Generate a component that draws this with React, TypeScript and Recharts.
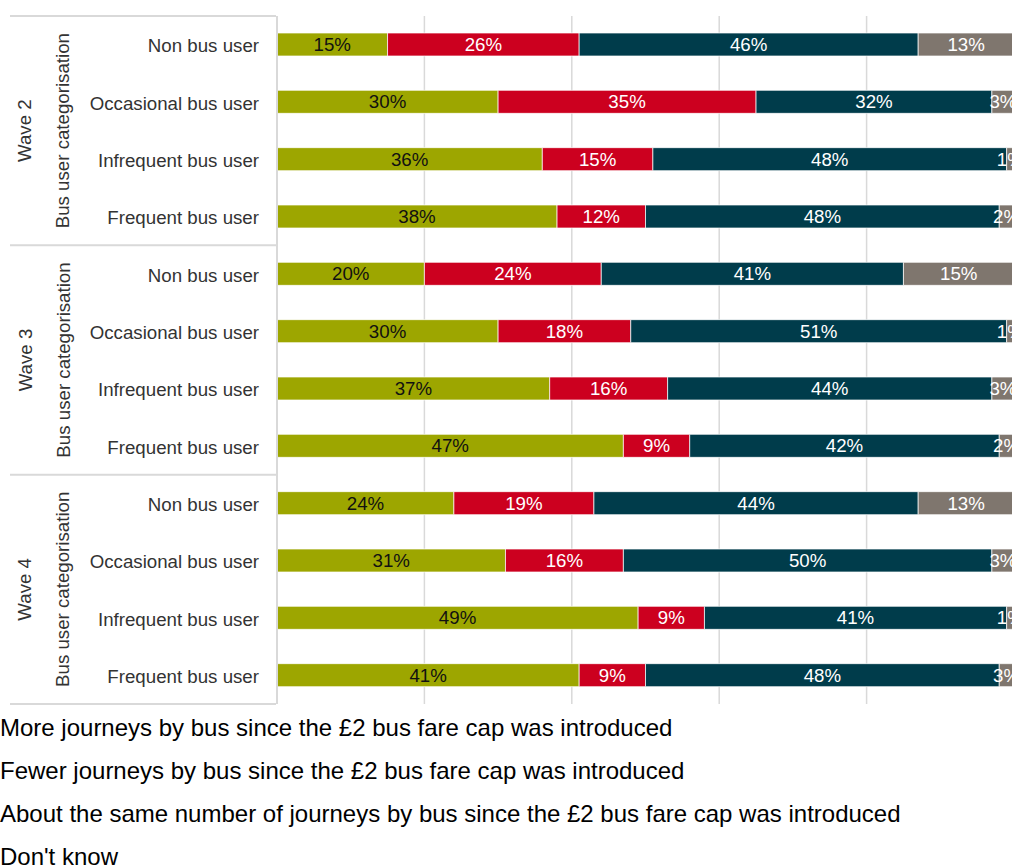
import { BarChart, Bar, XAxis, YAxis, CartesianGrid, Legend, LabelList } from 'recharts'

const waves = ['Wave 2', 'Wave 3', 'Wave 4']
const userTypes = ['Non bus user', 'Occasional bus user', 'Infrequent bus user', 'Frequent bus user']
const groupTitle = 'Bus user categorisation'

// one value per row, top to bottom (wave 2 .. wave 4)
const more = [15, 30, 36, 38, 20, 30, 37, 47, 24, 31, 49, 41]
const fewer = [26, 35, 15, 12, 24, 18, 16, 9, 19, 16, 9, 9]
const same = [46, 32, 48, 48, 41, 51, 44, 42, 44, 50, 41, 48]
const dontKnow = [13, 3, 1, 2, 15, 1, 3, 2, 13, 3, 1, 3]

const xTicks = [0, 20, 40, 60, 80, 100]

const SERIES = [
    { key: 'more', name: 'More journeys by bus since the £2 bus fare cap was introduced', color: '#9da600', text: '#111111' },
    { key: 'fewer', name: 'Fewer journeys by bus since the £2 bus fare cap was introduced', color: '#cc001f', text: '#ffffff' },
    { key: 'same', name: 'About the same number of journeys by bus since the £2 bus fare cap was introduced', color: '#003c4b', text: '#ffffff' },
    { key: 'dontKnow', name: "Don't know", color: '#7f766e', text: '#ffffff' },
]

const FONT = '"Liberation Sans", Arial, sans-serif'
const TOP = 16
const PLOT_H = 688
const AXIS_W = 277

const rows = waves.flatMap((w, wi) =>
    userTypes.map((u, ui) => {
        const i = wi * userTypes.length + ui
        return { id: `${w}-${u}`, wave: w, label: u, more: more[i], fewer: fewer[i], same: same[i], dontKnow: dontKnow[i] }
    })
)

const band = PLOT_H / rows.length
const lineColor = '#d9d9d9'

function RowTick(props: any) {
    const { y, index } = props
    const row = rows[index]
    if (!row) return null
    const pos = index % userTypes.length
    const groupMid = y + band / 2
    return (
        <g>
            <text x={259} y={y + 1} textAnchor="end" dominantBaseline="central" fill="#333" fontSize={18.7} fontFamily={FONT}>
                {row.label}
            </text>
            {pos === 0 && <line x1={10} x2={AXIS_W - 1} y1={y - band / 2} y2={y - band / 2} stroke={lineColor} strokeWidth={2} />}
            {index === rows.length - 1 && <line x1={10} x2={AXIS_W - 1} y1={y + band / 2} y2={y + band / 2} stroke={lineColor} strokeWidth={2} />}
            {pos === 1 && (
                <g>
                    <text x={25} y={groupMid} transform={`rotate(-90 25 ${groupMid})`} textAnchor="middle" dominantBaseline="central" fill="#333" fontSize={18.7} fontFamily={FONT}>
                        {row.wave}
                    </text>
                    <text x={63} y={groupMid} transform={`rotate(-90 63 ${groupMid})`} textAnchor="middle" dominantBaseline="central" fill="#333" fontSize={18.7} fontFamily={FONT}>
                        {groupTitle}
                    </text>
                </g>
            )}
        </g>
    )
}

function LegendLines(props: any) {
    const items = [...(props.payload || [])].sort(
        (a: any, b: any) => SERIES.findIndex(s => s.name === a.value) - SERIES.findIndex(s => s.name === b.value)
    )
    return (
        <div style={{ fontFamily: FONT, fontSize: 24, color: '#000' }}>
            {items.map((it: any) => (
                <div key={it.value} style={{ height: 43, lineHeight: '43px', whiteSpace: 'nowrap' }}>
                    {it.value}
                </div>
            ))}
        </div>
    )
}

export default function App() {
    return (
        <div style={{ position: 'absolute', left: 0, top: 0, width: 1012, height: 867, overflow: 'hidden', background: '#fff' }}>
            <BarChart
                width={1016}
                height={867}
                layout="vertical"
                data={rows}
                margin={{ top: TOP, right: 2, bottom: 867 - TOP - PLOT_H, left: 0 }}
                barSize={23}
            >
                <CartesianGrid horizontal={false} stroke={lineColor} strokeWidth={1.5} />
                <XAxis type="number" domain={[0, 100]} ticks={xTicks} allowDataOverflow hide />
                <YAxis
                    type="category"
                    dataKey="id"
                    width={AXIS_W}
                    interval={0}
                    tickLine={false}
                    axisLine={{ stroke: lineColor, strokeWidth: 2 }}
                    tick={<RowTick />}
                />
                <Legend
                    layout="horizontal"
                    verticalAlign="middle"
                    align="center"
                    content={<LegendLines />}
                    wrapperStyle={{ position: 'absolute', top: 706, left: 0, width: 1012 }}
                />
                {SERIES.map(s => (
                    <Bar key={s.key} dataKey={s.key} name={s.name} stackId="a" fill={s.color} stroke="#ffffff" strokeOpacity={0.7} strokeWidth={1} isAnimationActive={false}>
                        <LabelList
                            dataKey={s.key}
                            position="center"
                            formatter={(v: any) => `${v}%`}
                            fill={s.text}
                            fontSize={18.7}
                            fontFamily={FONT}
                        />
                    </Bar>
                ))}
            </BarChart>
        </div>
    )
}
